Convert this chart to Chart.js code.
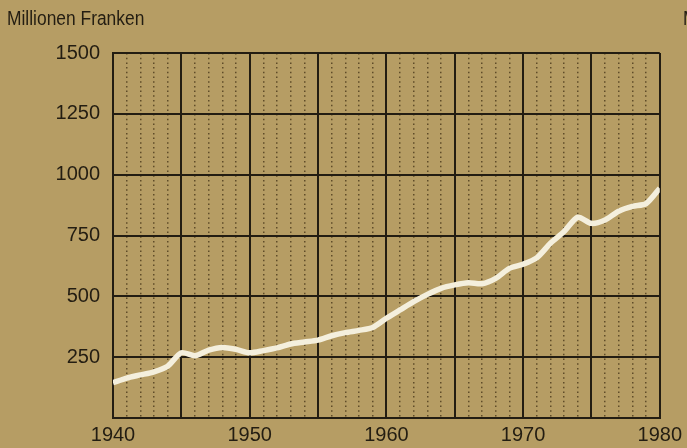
<!DOCTYPE html>
<html>
<head>
<meta charset="utf-8">
<script src="https://cdn.jsdelivr.net/npm/chart.js@4/dist/chart.umd.min.js"></script>
<style>
html,body{margin:0;padding:0;background:#b69d64;}
#wrap{width:687px;height:448px;position:relative;}
</style>
</head>
<body>
<div id="wrap"><canvas id="c" width="687" height="448"></canvas></div>
<script>
const years = [1940,1941,1942,1943,1944,1945,1946,1947,1948,1949,1950,1951,1952,1953,1954,1955,1956,1957,1958,1959,1960,1961,1962,1963,1964,1965,1966,1967,1968,1969,1970,1971,1972,1973,1974,1975,1976,1977,1978,1979,1980];
const values = [145,164,177,190,213,268,256,279,290,282,268,277,288,304,312,320,338,351,360,372,410,444,478,508,533,547,556,552,574,615,632,658,718,766,825,800,814,850,870,881,944];
const yTicks = [0,250,500,750,1000,1250,1500];
const xLabelYears = [1940,1950,1960,1970,1980];
const unitLabel = 'Millionen Franken';

const BG = '#b69d64';
const INK = '#231d12';
const DOT = 'rgba(80,62,30,0.85)';

const isMajor = ctx => !ctx.tick || ctx.tick.value % 5 === 0;

const bgPlugin = {
  id: 'bg',
  beforeDraw(chart) {
    const ctx = chart.ctx;
    ctx.save();
    ctx.fillStyle = BG;
    ctx.fillRect(0, 0, chart.width, chart.height);
    ctx.restore();
  },
  afterDraw(chart) {
    const ctx = chart.ctx;
    ctx.save();
    ctx.fillStyle = INK;
    ctx.font = '20px "Liberation Sans", Arial, sans-serif';
    ctx.textBaseline = 'middle';
    ctx.textAlign = 'left';
    ctx.save();
    ctx.translate(7, 19);
    ctx.scale(0.87, 1);
    ctx.fillText(unitLabel, 0, 0);
    ctx.restore();
    ctx.save();
    ctx.translate(683, 19);
    ctx.scale(0.87, 1);
    ctx.fillText(unitLabel, 0, 0);
    ctx.restore();
    ctx.restore();
  }
};

new Chart(document.getElementById('c'), {
  type: 'line',
  data: {
    datasets: [{
      data: years.map((y, i) => ({x: y, y: values[i]})),
      borderColor: '#f4efdd',
      borderWidth: 5.5,
      pointRadius: 0,
      tension: 0.25,
      fill: false
    }]
  },
  options: {
    responsive: false,
    animation: false,
    events: [],
    layout: {padding: {left: 0, right: 27, top: 53, bottom: 0}},
    plugins: {legend: {display: false}, tooltip: {enabled: false}, title: {display: false}},
    scales: {
      x: {
        type: 'linear',
        min: 1940, max: 1980,
        afterFit(s) { s.height = 30; },
        afterBuildTicks(s) { s.ticks = years.map(v => ({value: v})); },
        ticks: {
          autoSkip: false, maxRotation: 0, padding: 5,
          color: INK,
          font: {family: '"Liberation Sans", Arial, sans-serif', size: 20},
          callback: v => xLabelYears.includes(v) ? String(v) : ''
        },
        grid: {
          drawTicks: false,
          color: ctx => isMajor(ctx) ? INK : DOT,
          lineWidth: ctx => isMajor(ctx) ? 2 : 1.5
        },
        border: {
          display: true, color: INK, width: 2,
          dash: ctx => isMajor(ctx) ? [] : [1.5, 3.2]
        }
      },
      y: {
        min: 0, max: 1500,
        afterFit(s) { s.width = 113; },
        afterBuildTicks(s) { s.ticks = yTicks.map(v => ({value: v})); },
        ticks: {
          padding: 13,
          color: INK,
          font: {family: '"Liberation Sans", Arial, sans-serif', size: 20},
          callback: v => v === 0 ? '' : String(v)
        },
        grid: {drawTicks: false, color: INK, lineWidth: 2},
        border: {display: true, color: INK, width: 2}
      }
    }
  },
  plugins: [bgPlugin]
});
</script>
</body>
</html>
